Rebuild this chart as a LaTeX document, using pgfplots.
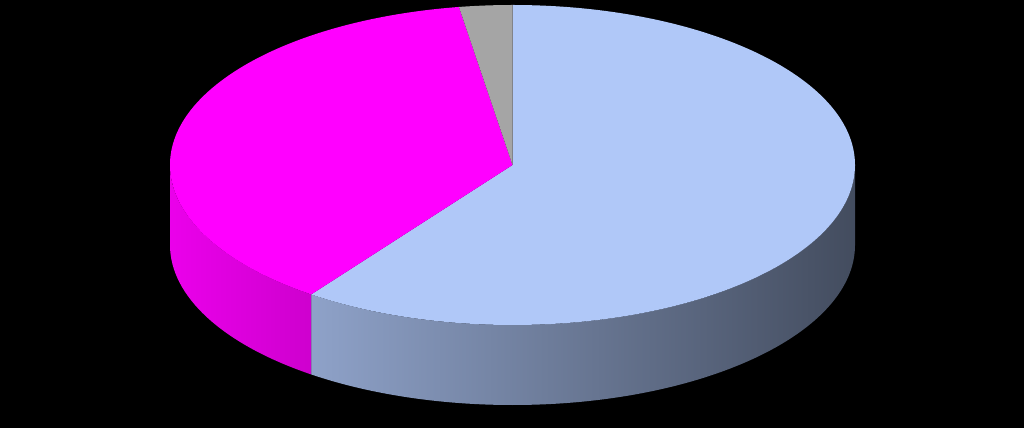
\documentclass[border=0pt]{standalone}
\usepackage{pgfplots}
\pgfplotsset{compat=1.18}
\usepackage{pgfplotstable}

\definecolor{sliceA}{HTML}{B0C8F8}
\definecolor{sliceB}{HTML}{FF00FF}
\definecolor{sliceC}{HTML}{A5A5A5}

% slice shares (percent), clockwise from 12 o'clock
\pgfplotstableread{
label value
A 60
B 37.5
C 2.5
}\piedata

% geometry of the tilted pie (axis units = pixels of the reference)
\def\cx{512.5}
\def\cy{263}
\def\ra{342.5}
\def\rb{160}
\def\dep{80}

% top face of one slice: start angle, end angle, colour
\newcommand\pietop[3]{%
  \fill[#3] (\cx,\cy) -- ({\cx+\ra*cos(#1)},{\cy+\rb*sin(#1)})
    arc[start angle=#1, end angle=#2, x radius=\ra, y radius=\rb] -- cycle;
}
% visible side band between two angles in [-180,0], shaded left to right
\newcommand\pieside[3]{%
  \pgfmathsetmacro\xl{\cx+\ra*cos(#1)}%
  \pgfmathsetmacro\xr{\cx+\ra*cos(#2)}%
  \pgfmathsetmacro\fl{92-0.0788*(\xl-170)}%
  \pgfmathsetmacro\fr{92-0.0788*(\xr-170)}%
  \pgfmathparse{(#1)<(#2) ? 1 : 0}%
  \ifnum\pgfmathresult=1
  \fill[left color=#3!\fl!black, right color=#3!\fr!black]
    ({\cx+\ra*cos(#1)},{\cy+\rb*sin(#1)})
    arc[start angle=#1, end angle=#2, x radius=\ra, y radius=\rb]
    -- ({\cx+\ra*cos(#2)},{\cy-\dep+\rb*sin(#2)})
    arc[start angle=#2, end angle=#1, x radius=\ra, y radius=\rb] -- cycle;
  \fi
}

\begin{document}
\begin{tikzpicture}
\pgfplotstablegetelem{0}{value}\of\piedata \let\va\pgfplotsretval
\pgfplotstablegetelem{1}{value}\of\piedata \let\vb\pgfplotsretval
\pgfplotstablegetelem{2}{value}\of\piedata \let\vc\pgfplotsretval
\pgfmathsetmacro\aA{90}
\pgfmathsetmacro\aB{\aA-3.6*\va}
\pgfmathsetmacro\aC{\aB-3.6*\vb}
\pgfmathsetmacro\aD{\aC-3.6*\vc}
% front part of each slice's rim
\pgfmathsetmacro\loA{max(\aB,-180)}\pgfmathsetmacro\hiA{min(\aA,0)}
\pgfmathsetmacro\loB{max(\aC,-180)}\pgfmathsetmacro\hiB{min(\aB,0)}
\pgfmathsetmacro\loC{max(\aD,-180)}\pgfmathsetmacro\hiC{min(\aC,0)}
\begin{axis}[
  x=1pt, y=1pt,
  xmin=0, xmax=1024, ymin=0, ymax=428,
  hide axis, scale only axis,
]
\fill[black] (0,0) rectangle (1024,428);

\pgfplotsextra{\pieside{\loA}{\hiA}{sliceA}}
\pgfplotsextra{\pieside{\loB}{\hiB}{sliceB}}
\pgfplotsextra{\pieside{\loC}{\hiC}{sliceC}}

\pietop{\aA}{\aB}{sliceA}
\pietop{\aB}{\aC}{sliceB}
\pietop{\aC}{\aD}{sliceC}
\end{axis}
\end{tikzpicture}
\end{document}
